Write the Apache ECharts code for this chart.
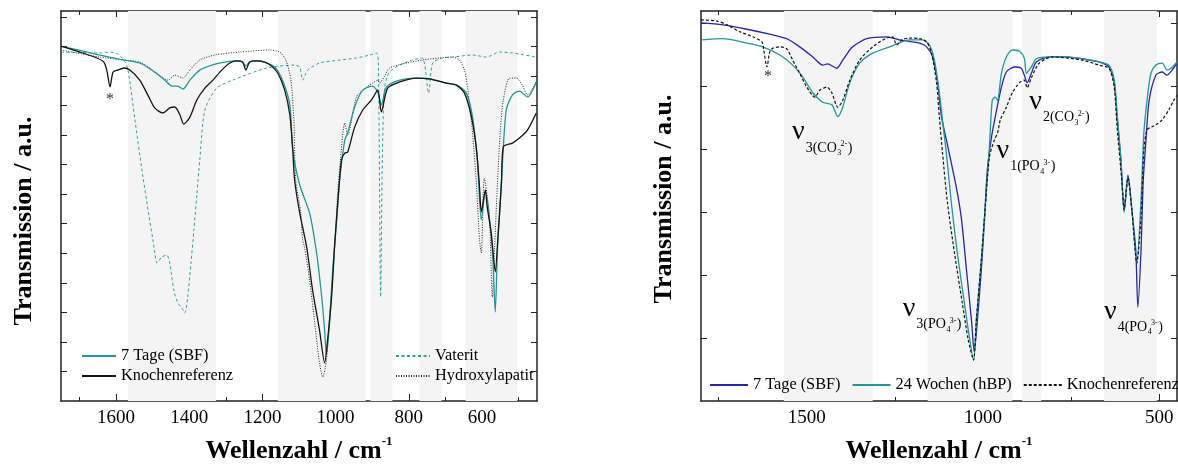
<!DOCTYPE html>
<html><head><meta charset="utf-8">
<script src="https://cdn.jsdelivr.net/npm/echarts@6.0.0/dist/echarts.min.js"></script>
<style>html,body{margin:0;padding:0;background:#fff}#c{width:1178px;height:466px}</style>
</head><body><div id="c"></div><script>
// ---------- data ----------
const leftSBF = [[1750,12.01],[1644,11.71],[1578,11.54],[1535,11.44],[1494,11.13],[1466,10.86],[1447,10.66],[1431,10.66],[1417,10.56],[1398,10.86],[1371,11.20],[1338,11.37],[1303,11.47],[1270,11.51],[1254,11.47],[1245,11.34],[1235,11.47],[1215,11.51],[1194,11.47],[1166,11.30],[1145,10.86],[1125,10.02],[1117,8.49],[1098,7.31],[1071,6.36],[1052,5.01],[1038,3.52],[1030,2.40],[1025,1.56],[1016,2.74],[1008,4.43],[997,6.13],[989,7.48],[975,8.83],[967,9.07],[948,9.95],[926,10.52],[899,10.66],[885,10.46],[875,10.02],[861,10.63],[825,10.86],[779,10.93],[744,10.90],[697,10.76],[670,10.69],[643,10.42],[626,9.61],[613,8.16],[602,6.13],[591,7.14],[572,5.11],[564,3.01],[558,5.11],[550,6.80],[545,7.92],[534,9.85],[517,10.36],[498,10.49],[476,10.29],[452,10.80]];
const leftBone = [[1750,12.01],[1698,11.81],[1652,11.61],[1633,11.47],[1625,11.20],[1616,10.63],[1608,11.13],[1595,11.20],[1578,11.27],[1562,11.20],[1535,10.86],[1513,10.36],[1494,9.92],[1472,9.75],[1453,9.92],[1439,9.95],[1425,9.68],[1415,9.37],[1398,9.61],[1379,10.19],[1357,10.59],[1335,10.86],[1311,11.20],[1289,11.44],[1270,11.51],[1254,11.47],[1245,11.20],[1235,11.47],[1215,11.51],[1194,11.47],[1175,11.34],[1158,11.10],[1139,10.52],[1125,9.68],[1117,8.49],[1112,7.48],[1098,6.36],[1079,5.21],[1063,3.76],[1044,2.40],[1030,1.29],[1022,2.06],[1011,3.52],[1003,5.21],[995,6.57],[984,8.16],[975,8.39],[967,8.43],[948,9.27],[926,9.85],[902,10.19],[885,10.52],[875,9.78],[858,10.59],[825,10.80],[779,10.93],[744,10.90],[697,10.76],[670,10.69],[648,10.42],[629,9.61],[615,8.49],[607,7.24],[602,6.40],[591,7.14],[586,6.57],[575,5.69],[564,4.37],[556,5.69],[547,7.38],[542,8.60],[517,8.73],[498,8.90],[476,9.17],[452,9.75]];
const leftVaterit = [[1750,11.81],[1644,11.78],[1616,11.81],[1595,11.74],[1578,11.54],[1567,11.20],[1548,9.51],[1529,7.82],[1510,6.29],[1499,5.45],[1494,5.04],[1488,4.67],[1475,4.87],[1461,4.94],[1453,4.67],[1442,3.76],[1431,3.32],[1420,3.15],[1412,2.98],[1404,3.52],[1395,4.67],[1387,5.79],[1379,6.97],[1371,8.16],[1357,9.85],[1325,10.59],[1281,10.86],[1188,11.27],[1112,11.37],[1098,11.30],[1090,10.86],[1076,11.20],[1044,11.44],[1008,11.51],[943,11.61],[907,11.71],[888,11.78],[883,11.30],[877,3.52],[872,8.49],[866,10.63],[853,11.13],[825,11.37],[790,11.54],[763,11.61],[746,10.42],[735,11.44],[708,11.61],[681,11.64],[626,11.71],[588,11.64],[553,11.81],[517,11.78],[452,11.64]];
const leftHAp = [[1750,11.88],[1644,11.64],[1578,11.54],[1535,11.47],[1507,11.27],[1480,11.00],[1458,10.86],[1439,11.03],[1417,10.93],[1398,11.20],[1371,11.54],[1330,11.71],[1262,11.81],[1180,11.88],[1153,11.81],[1136,11.54],[1122,10.86],[1114,9.51],[1109,7.48],[1095,6.36],[1090,5.45],[1085,5.21],[1071,4.09],[1057,2.64],[1044,1.29],[1035,0.81],[1025,1.39],[1016,2.98],[1005,4.67],[995,6.90],[987,8.16],[975,9.41],[967,9.00],[943,10.29],[915,10.63],[894,10.80],[885,10.86],[880,10.76],[866,11.00],[853,11.27],[806,11.44],[763,11.54],[716,11.61],[681,11.64],[662,11.54],[648,11.20],[640,10.63],[626,9.07],[615,7.24],[607,5.45],[602,5.01],[594,7.55],[580,6.23],[572,3.52],[566,5.11],[558,7.38],[550,9.17],[542,10.19],[525,10.93],[506,10.93],[490,10.69],[476,10.36],[452,10.80]];

const rightSBF = [[1800,6.01],[1738,5.98],[1670,5.91],[1596,5.82],[1557,5.76],[1520,5.63],[1483,5.47],[1455,5.34],[1441,5.36],[1415,5.29],[1398,5.42],[1370,5.63],[1330,5.76],[1274,5.79],[1237,5.74],[1200,5.71],[1180,5.69],[1160,5.63],[1143,5.47],[1129,5.06],[1118,4.52],[1104,4.15],[1076,3.40],[1061,2.88],[1047,2.08],[1033,1.29],[1025,0.78],[1016,1.29],[1005,2.08],[996,2.88],[988,3.67],[976,4.20],[965,4.53],[948,4.99],[934,5.23],[911,5.31],[892,5.29],[883,5.18],[875,5.06],[863,5.21],[849,5.39],[812,5.47],[764,5.47],[719,5.44],[671,5.39],[643,5.31],[628,5.06],[620,4.52],[609,3.83],[600,3.04],[589,3.59],[578,3.04],[567,2.40],[561,1.49],[552,2.40],[546,3.47],[538,4.15],[529,4.78],[510,5.18],[492,5.23],[478,5.18],[464,5.26],[450,5.37]];
const rightHBP = [[1800,5.74],[1738,5.76],[1670,5.69],[1625,5.63],[1576,5.50],[1540,5.34],[1511,5.15],[1483,4.90],[1455,4.75],[1429,4.71],[1412,4.52],[1398,4.67],[1378,5.06],[1350,5.37],[1313,5.53],[1265,5.63],[1209,5.74],[1172,5.74],[1152,5.66],[1138,5.42],[1124,4.90],[1112,4.31],[1104,3.94],[1090,3.15],[1073,2.35],[1053,1.56],[1039,1.02],[1027,0.65],[1019,1.29],[1005,2.24],[993,3.15],[982,4.04],[974,4.78],[965,4.83],[959,4.78],[948,5.21],[934,5.47],[917,5.58],[897,5.56],[883,5.45],[877,5.21],[863,5.31],[849,5.44],[812,5.47],[764,5.47],[719,5.44],[671,5.39],[643,5.34],[628,5.10],[620,4.58],[609,3.83],[600,3.00],[589,3.55],[578,3.04],[564,2.19],[552,3.20],[544,4.26],[535,4.78],[524,5.21],[510,5.34],[492,5.37],[478,5.26],[467,5.29],[450,5.39]];
const rightBone = [[1800,6.06],[1755,6.04],[1726,5.98],[1690,5.87],[1653,5.79],[1627,5.71],[1622,5.58],[1613,5.31],[1605,5.55],[1596,5.61],[1576,5.63],[1557,5.60],[1540,5.42],[1520,5.21],[1500,4.99],[1477,4.83],[1463,4.94],[1443,4.99],[1429,4.90],[1412,4.67],[1398,4.78],[1378,5.10],[1350,5.42],[1313,5.63],[1274,5.77],[1257,5.79],[1245,5.66],[1231,5.74],[1209,5.77],[1180,5.76],[1160,5.71],[1146,5.53],[1132,5.06],[1124,4.52],[1115,3.94],[1101,3.15],[1081,2.35],[1059,1.56],[1042,0.97],[1027,0.65],[1019,1.29],[1005,2.24],[993,3.15],[982,3.88],[968,4.15],[959,4.26],[951,4.47],[934,4.67],[917,4.90],[897,5.06],[883,5.10],[875,4.98],[863,5.14],[841,5.37],[804,5.47],[719,5.42],[671,5.34],[643,5.29],[628,4.99],[620,4.36],[606,3.47],[600,3.04],[589,3.55],[578,3.04],[564,2.19],[552,2.93],[544,3.99],[535,4.31],[521,4.36],[510,4.39],[492,4.47],[473,4.63],[459,4.78],[450,4.86]];

const bandsLeft = [[1567,1327],[1158,918],[905,845],[771,711],[645,504]];
const bandsRight = [[1565,1313],[1157,917],[889,835],[657,507]];

const xMajorLeft = [1600,1400,1200,1000,800,600];
const xMinorLeft = [1700,1500,1300,1100,900,700,500];
const xMajorRight = [1500,1000,500];
const xMinorRight = [1750,1250,750];
const yTicksLeft = [1,2,3,4,5,6,7,8,9,10,11,12,13];
const yTicksRight = [1,2,3,4,5,6];

const seriesNames = {
  L_sbf: '7 Tage (SBF)', L_bone: 'Knochenreferenz', L_vat: 'Vaterit', L_hap: 'Hydroxylapatit',
  R_sbf: '7 Tage (SBF)', R_hbp: '24 Wochen (hBP)', R_bone: 'Knochenreferenz'
};
const xTitle = 'Wellenzahl / cm';
const xTitleSup = '-1';
const yTitle = 'Transmission / a.u.';

const annAnchors = [[1542,4.23],[869,4.71],[962,3.93],[1228,1.42],[657,1.38]];
const annTexts = [['3(CO','3','2-'],['2(CO','3','2-'],['1(PO','4','3-'],['3(PO','4','3-'],['4(PO','4','3-']];
const starLeft = [1616,10.32];
const starRight = [1610,5.21];

// ---------- chart ----------
const FONT = 'Liberation Serif';
const TEAL = '#21979a', BLUE = '#2626a8', BLACK = '#141414', AX = '#222';
const chart = echarts.init(document.getElementById('c'));

function xAxes(gridIndex, min, max, major, minor) {
  const base = {type:'value', gridIndex, min, max, inverse:true, splitLine:{show:false}, axisLabel:{show:false}};
  const line = {show:true, onZero:false, lineStyle:{color:AX, width:1.5}};
  const tick = (vals, len) => ({show:true, inside:true, length:len, customValues:vals, lineStyle:{color:AX, width:1}});
  return [
    Object.assign({}, base, {position:'bottom', axisLine:line, axisTick:tick(major,7),
      axisLabel:{show:true, customValues:major, margin:8, color:'#000', fontFamily:FONT, fontSize:19, formatter:v => String(v)}}),
    Object.assign({}, base, {position:'bottom', axisLine:{show:false, onZero:false}, axisTick:tick(minor,4)}),
    Object.assign({}, base, {position:'top', axisLine:line, axisTick:tick(major,6)}),
    Object.assign({}, base, {position:'top', axisLine:{show:false, onZero:false}, axisTick:tick(minor,4)})
  ];
}
function yAxes(gridIndex, max, ticks) {
  const mk = pos => ({type:'value', gridIndex, min:0, max, position:pos, splitLine:{show:false},
    axisLine:{show:true, onZero:false, lineStyle:{color:AX, width:1.5}},
    axisTick:{show:true, inside:true, length:6, customValues:ticks, lineStyle:{color:AX, width:1}},
    axisLabel:{show:false}});
  return [mk('left'), mk('right')];
}
function ser(name, data, xi, yi, color, type, width, extra) {
  return Object.assign({name, type:'line', data, xAxisIndex:xi, yAxisIndex:yi, symbol:'none', smooth:0.25,
    silent:true, lineStyle:{color, type, width}, itemStyle:{color}}, extra || {});
}
const band = b => ({silent:true, itemStyle:{color:'#f4f4f4'}, data: b.map(r => [{xAxis:r[0]},{xAxis:r[1]}])});

const legendText = {fontFamily:FONT, fontSize:16.3, color:'#000'};
const legendBase = {selectedMode:false, itemHeight:14, formatter:n => seriesNames[n], textStyle:legendText,
  itemStyle:{opacity:0, color:'rgba(0,0,0,0)', borderWidth:0}};
const option = {
  animation:false,
  grid:[{left:61, top:11, width:476, height:390}, {left:701, top:11, width:476, height:390}],
  xAxis: xAxes(0, 450, 1750, xMajorLeft, xMinorLeft).concat(xAxes(1, 450, 1800, xMajorRight, xMinorRight)),
  yAxis: yAxes(0, 13.2, yTicksLeft).concat(yAxes(1, 6.2, yTicksRight)),
  legend:[
    Object.assign({}, legendBase, {data:['L_sbf','L_bone'], orient:'vertical', left:76, top:343, width:300, itemWidth:34, itemGap:4}),
    Object.assign({}, legendBase, {data:['L_vat','L_hap'], orient:'vertical', left:390, top:343, width:200, itemWidth:34, itemGap:4}),
    Object.assign({}, legendBase, {data:['R_sbf','R_hbp','R_bone'], orient:'horizontal', left:704, top:372, width:520, itemWidth:38, itemGap:11})
  ],
  series:[
    ser('L_vat', leftVaterit, 0, 0, '#2ea2a2', [3,2.5], 1, {markArea: band(bandsLeft)}),
    ser('L_hap', leftHAp, 0, 0, '#262626', [1,1.5], 1),
    ser('L_sbf', leftSBF, 0, 0, TEAL, 'solid', 1.3),
    ser('L_bone', leftBone, 0, 0, BLACK, 'solid', 1.3),
    ser('R_sbf', rightSBF, 4, 2, BLUE, 'solid', 1.3, {markArea: band(bandsRight)}),
    ser('R_hbp', rightHBP, 4, 2, TEAL, 'solid', 1.3),
    ser('R_bone', rightBone, 4, 2, BLACK, [3,2], 1.2)
  ]
};
chart.setOption(option);

// ---------- annotations ----------
const mctx = document.createElement('canvas').getContext('2d');
function tw(t, size, weight) { mctx.font = (weight || 'normal') + ' ' + size + 'px "' + FONT + '"'; return mctx.measureText(t).width; }
function txt(t, x, y, size, opts) {
  const o = opts || {};
  return {type:'text', x, y, z:100, silent:true, rotation:o.rotation || 0, style:{text:t, fontFamily:FONT, fontSize:size, fontWeight:o.weight || 'normal',
    fill:o.fill || '#000', align:o.align || 'left', verticalAlign:'middle', textAlign:o.align || 'left', textVerticalAlign:'middle'}};
}
const graphics = [];
annAnchors.forEach((a, i) => {
  const [px, py] = chart.convertToPixel({xAxisIndex:4, yAxisIndex:2}, a);
  const [sub, tiny, sup] = annTexts[i];
  let x = px;
  graphics.push(txt('ν', x, py - 3, 28)); x += tw('ν', 28) + 1;
  graphics.push(txt(sub, x, py + 13, 14)); x += tw(sub, 14);
  graphics.push(txt(tiny, x + 0.5, py + 18, 8));
  const xs = x + tw(tiny, 8) * 0.7 + 1;
  graphics.push(txt(sup, xs, py + 9, 8));
  x = xs + tw(sup, 8) + 0.5;
  graphics.push(txt(')', x, py + 13, 14));
});
const sl = chart.convertToPixel({xAxisIndex:0, yAxisIndex:0}, starLeft);
const sr = chart.convertToPixel({xAxisIndex:4, yAxisIndex:2}, starRight);
graphics.push(txt('*', sl[0], sl[1] + 4, 16, {align:'center', fill:'#333'}));
graphics.push(txt('*', sr[0], sr[1] + 4, 16, {align:'center', fill:'#333'}));

// axis titles
function xTitleEl(cx) {
  return {type:'text', x:cx, y:451, z:100, silent:true, style:{text:'{m|' + xTitle + '}{s|' + xTitleSup + '}', align:'center', verticalAlign:'middle', textAlign:'center', textVerticalAlign:'middle',
    rich:{m:{fontFamily:FONT, fontSize:26, fontWeight:'bold', lineHeight:32, fill:'#000', color:'#000'},
          s:{fontFamily:FONT, fontSize:13, fontWeight:'bold', lineHeight:14, verticalAlign:'top', fill:'#000', color:'#000'}}}};
}
graphics.push(xTitleEl(299), xTitleEl(939));
graphics.push(txt(yTitle, 24, 221, 26, {weight:'bold', align:'center', rotation:Math.PI/2}));
graphics.push(txt(yTitle, 664, 199, 26, {weight:'bold', align:'center', rotation:Math.PI/2}));
chart.setOption({graphic:{elements:graphics}});
</script></body></html>
